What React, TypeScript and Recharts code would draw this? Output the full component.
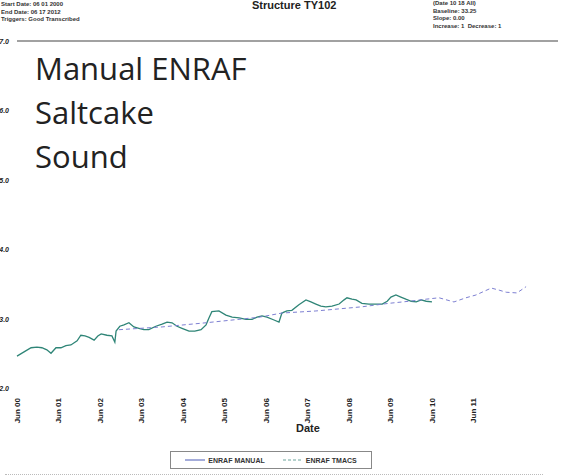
import { LineChart, Line, XAxis, YAxis, ReferenceLine } from 'recharts';

// ─── Data (years since Jun 2000, level in inches) ─────────────────────────────

const manualYears = [
  0.0, 0.17, 0.34, 0.48, 0.6, 0.72, 0.82, 0.94, 1.06, 1.18, 1.3, 1.45, 1.54, 1.64,
  1.74, 1.86, 1.95, 2.03, 2.17, 2.29, 2.36, 2.39, 2.48, 2.58, 2.7, 2.82, 2.94, 3.06,
  3.18, 3.35, 3.5, 3.62, 3.74, 3.86, 3.98, 4.15, 4.29, 4.44, 4.56, 4.63, 4.7, 4.87,
  5.04, 5.19, 5.36, 5.52, 5.67, 5.79, 5.91, 6.03, 6.2, 6.32, 6.39, 6.51, 6.63, 6.8,
  6.97, 7.09, 7.21, 7.33, 7.45, 7.6, 7.77, 7.89, 7.96, 8.08, 8.18, 8.32, 8.49, 8.66,
  8.81, 8.93, 9.02, 9.14, 9.26, 9.38, 9.51, 9.63, 9.75, 9.87, 10.01,
];
const manualValues = [
  2.46, 2.52, 2.58, 2.59, 2.58, 2.55, 2.5, 2.58, 2.58, 2.61, 2.62, 2.68, 2.76, 2.75,
  2.73, 2.69, 2.75, 2.78, 2.76, 2.75, 2.66, 2.82, 2.89, 2.91, 2.94, 2.88, 2.86, 2.84,
  2.84, 2.89, 2.92, 2.95, 2.94, 2.89, 2.86, 2.82, 2.82, 2.84, 2.91, 3.01, 3.1, 3.11,
  3.05, 3.02, 3.01, 2.99, 2.99, 3.02, 3.04, 3.02, 2.98, 2.95, 3.08, 3.11, 3.12, 3.2,
  3.27, 3.24, 3.21, 3.18, 3.17, 3.18, 3.21, 3.27, 3.3, 3.28, 3.27, 3.22, 3.21, 3.21,
  3.21, 3.25, 3.31, 3.34, 3.31, 3.28, 3.25, 3.24, 3.27, 3.25, 3.24,
];

const tmacsYears = [
  2.46, 3.5, 4.56, 5.84, 6.39, 7.21, 8.32, 8.97, 9.46, 9.87, 10.18, 10.54, 10.83,
  11.07, 11.44, 11.63, 11.8, 12.06, 12.28,
];
const tmacsValues = [
  2.84, 2.88, 2.94, 3.02, 3.08, 3.11, 3.17, 3.22, 3.25, 3.28, 3.3, 3.24, 3.3,
  3.34, 3.44, 3.41, 3.38, 3.37, 3.46,
];

const tickYears  = [0, 1, 2, 3, 4, 5, 6, 7, 8, 9, 10, 11];
const tickLabels = ['Jun 00', 'Jun 01', 'Jun 02', 'Jun 03', 'Jun 04', 'Jun 05',
  'Jun 06', 'Jun 07', 'Jun 08', 'Jun 09', 'Jun 10', 'Jun 11'];
const levelTicks = [2, 3, 4, 5, 6, 7];

const manualData = manualYears.map((t, i) => ({ t, level: manualValues[i] }));
const tmacsData  = tmacsYears.map((t, i) => ({ t, level: tmacsValues[i] }));

const AXIS_FONT = '"Liberation Sans", Arial, sans-serif';

// ─── Ticks ────────────────────────────────────────────────────────────────────

// eslint-disable-next-line @typescript-eslint/no-explicit-any
function DateTick(props: any) {
  const { x, y, payload } = props;
  const label = tickLabels[tickYears.indexOf(payload.value)] ?? '';
  return (
    <text
      x={0} y={0}
      transform={`translate(${x + 3},${y + 2}) rotate(-90)`}
      textAnchor="end"
      fontFamily={AXIS_FONT}
      fontSize={8}
      fontWeight="bold"
      fill="#222"
    >
      {label}
    </text>
  );
}

// eslint-disable-next-line @typescript-eslint/no-explicit-any
function LevelTick(props: any) {
  const { y, payload } = props;
  return (
    <text
      x={9} y={y + 3}
      textAnchor="end"
      fontFamily={AXIS_FONT}
      fontSize={7}
      fontWeight="bold"
      fontStyle="italic"
      fill="#222"
    >
      {payload.value.toFixed(1)}
    </text>
  );
}

// ─── Component ────────────────────────────────────────────────────────────────

const small: React.CSSProperties = {
  position: 'absolute', fontFamily: AXIS_FONT, fontSize: 6, fontWeight: 'bold',
  color: '#333', lineHeight: '7.5px', whiteSpace: 'nowrap',
};

export default function App() {
  return (
    <div style={{ position: 'absolute', left: 0, top: 0, width: 573, height: 476, overflow: 'hidden', background: '#fff' }}>
      <LineChart
        width={573}
        height={476}
        margin={{ top: 41, right: 15, bottom: 48, left: 0 }}
      >
        <XAxis
          dataKey="t"
          type="number"
          domain={[0, 13.05]}
          ticks={tickYears}
          tick={<DateTick />}
          axisLine={false}
          tickLine={false}
          height={40}
          allowDuplicatedCategory={false}
        />
        <YAxis
          dataKey="level"
          type="number"
          domain={[2, 7]}
          ticks={levelTicks}
          tick={<LevelTick />}
          axisLine={false}
          tickLine={false}
          width={17}
        />
        <ReferenceLine y={7} stroke="#444" strokeWidth={1.2} />
        <Line
          data={manualData}
          dataKey="level"
          name="ENRAF MANUAL"
          stroke="#2f8577"
          strokeWidth={1.3}
          dot={false}
          isAnimationActive={false}
        />
        <Line
          data={tmacsData}
          dataKey="level"
          name="ENRAF TMACS"
          stroke="#7d7fd2"
          strokeWidth={1}
          strokeDasharray="4 3"
          dot={false}
          isAnimationActive={false}
        />
      </LineChart>

      {/* Report header */}
      <div style={{ ...small, left: 1, top: 1 }}>
        <div>Start Date: 06 01 2000</div>
        <div>End Date: 06 17 2012</div>
        <div>Triggers: Good Transcribed</div>
      </div>
      <div style={{ position: 'absolute', left: 252, top: 0, fontFamily: AXIS_FONT, fontSize: 11, lineHeight: '11px', fontWeight: 'bold', color: '#222' }}>
        Structure TY102
      </div>
      <div style={{ ...small, left: 433, top: 0 }}>
        <div>(Date 10 18 All)</div>
        <div>Baseline: 33.25</div>
        <div>Slope: 0.00</div>
        <div>Increase: 1&nbsp;&nbsp;Decrease: 1</div>
      </div>

      {/* Annotation (one block, three lines) */}
      <div style={{
        position: 'absolute', left: 35, top: 46, fontFamily: '"Open Sans", sans-serif',
        fontSize: 31, color: '#222', whiteSpace: 'nowrap', lineHeight: '44px',
      }}>
        Manual ENRAF<br />Saltcake<br />Sound
      </div>

      {/* Axis title */}
      <div style={{ position: 'absolute', left: 296, top: 422, fontFamily: AXIS_FONT, fontSize: 11, fontWeight: 'bold', color: '#222' }}>
        Date
      </div>

      {/* Legend */}
      <div style={{
        position: 'absolute', left: 170, top: 451, width: 202, height: 18, boxSizing: 'border-box',
        border: '1px solid #888', display: 'flex', alignItems: 'center', justifyContent: 'center', gap: 18,
        fontFamily: AXIS_FONT, fontSize: 7, fontWeight: 'bold', color: '#333',
      }}>
        <span style={{ display: 'flex', alignItems: 'center', gap: 3 }}>
          <svg width={20} height={4}><line x1={0} y1={2} x2={20} y2={2} stroke="#4a5bb5" strokeWidth={1} /></svg>
          ENRAF MANUAL
        </span>
        <span style={{ display: 'flex', alignItems: 'center', gap: 3 }}>
          <svg width={20} height={4}><line x1={0} y1={2} x2={20} y2={2} stroke="#6aa39a" strokeWidth={1} strokeDasharray="3 2" /></svg>
          ENRAF TMACS
        </span>
      </div>

      {/* Page rule */}
      <div style={{ position: 'absolute', left: 5, right: 30, top: 474, borderTop: '1px dotted #bbb' }} />
    </div>
  );
}
